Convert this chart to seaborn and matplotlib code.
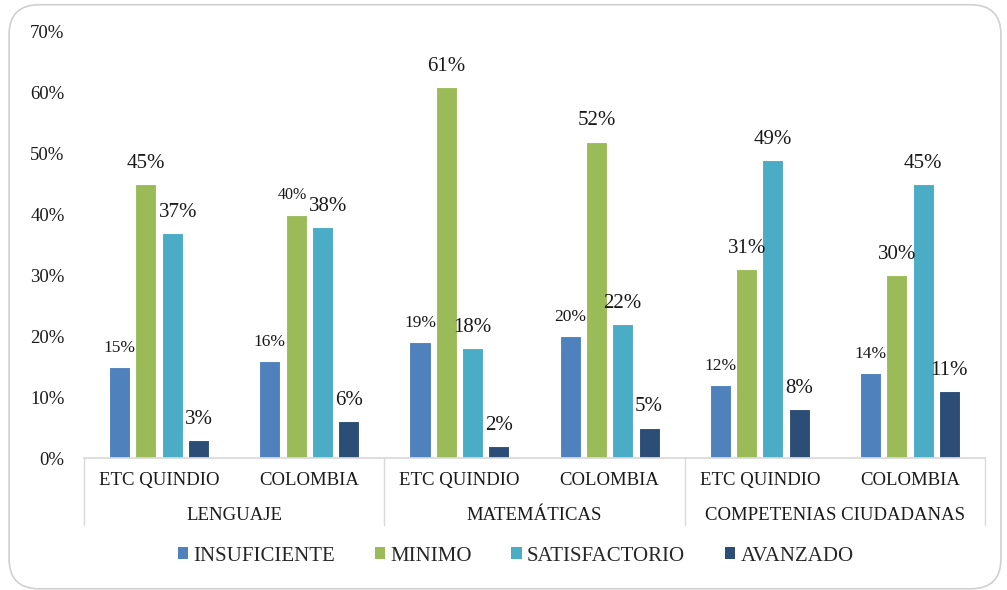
import matplotlib.pyplot as plt
import pandas as pd
import seaborn as sns
from matplotlib.patches import FancyBboxPatch, Patch
from matplotlib.transforms import blended_transform_factory

# datos
areas = ["LENGUAJE", "MATEMÁTICAS", "COMPETENIAS CIUDADANAS"]
lugares = ["ETC QUINDIO", "COLOMBIA"]
niveles = ["INSUFICIENTE", "MINIMO", "SATISFACTORIO", "AVANZADO"]
insuficiente = [15, 16, 19, 20, 12, 14]
minimo = [45, 40, 61, 52, 31, 30]
satisfactorio = [37, 38, 18, 22, 49, 45]
avanzado = [3, 6, 2, 5, 8, 11]
ticks_y = [0, 10, 20, 30, 40, 50, 60, 70]

paleta = ["#4F81BD", "#9BBB59", "#4BACC6", "#2C4D75"]

claves = [f"{a}|{l}" for a in areas for l in lugares]
filas = []
for nivel, vals in zip(niveles, [insuficiente, minimo, satisfactorio, avanzado]):
    for k, v in zip(claves, vals):
        filas.append({"grupo": k, "nivel": nivel, "valor": v})
df = pd.DataFrame(filas)

sns.set_theme(style="white")
plt.rcParams["font.family"] = ["Liberation Serif", "DejaVu Serif"]

fig = plt.figure(figsize=(10.07, 5.90), dpi=100)
ax = fig.add_axes([0.0834, 0.2237, 0.8948, 0.7221])

sns.barplot(
    data=df, x="grupo", y="valor", hue="nivel", order=claves,
    hue_order=niveles, palette=paleta, saturation=1, width=0.7, gap=0.2,
    errorbar=None, edgecolor="white", linewidth=0.8, ax=ax, legend=False,
)

# etiquetas de valores
for i, cont in enumerate(ax.containers):
    textos = ax.bar_label(cont, labels=[f"{b.get_height():.0f}%" for b in cont],
                          padding=8, fontsize=15, color="#1a1a1a")
    for j, t in enumerate(textos):
        if i == 0:
            t.set_fontsize(12.5)
        elif i == 1 and j == 1:
            t.set_fontsize(11.5)
            t.xyann = (-3, 8)
        elif i == 2 and j in (0, 1):
            t.xyann = (4, 8)

ax.set_ylim(0, 70)
ax.set_xlim(-0.5, 5.5)
ax.set_yticks(ticks_y)
ax.set_yticklabels([f"{t}%" for t in ticks_y], fontsize=13.5, color="#1a1a1a")
ax.tick_params(axis="y", length=0, pad=14)
ax.set_xticks(range(6))
ax.set_xticklabels([l for a in areas for l in lugares], fontsize=13.5, color="#1a1a1a")
ax.tick_params(axis="x", length=0, pad=10)
ax.set_xlabel("")
ax.set_ylabel("")
for s in ["top", "right", "left"]:
    ax.spines[s].set_visible(False)
ax.spines["bottom"].set_color("#d9d9d9")

# separadores y nombres de grupo
trans = blended_transform_factory(ax.transData, ax.transAxes)
for xs in [-0.5, 1.5, 3.5, 5.5]:
    ax.plot([xs, xs], [0, -0.158], color="#d9d9d9", lw=1, transform=trans, clip_on=False)
for i, a in enumerate(areas):
    ax.text(2 * i + 0.5, -0.134, a, transform=trans, ha="center", va="center",
            fontsize=13.5, color="#1a1a1a")

# leyenda
handles = [Patch(facecolor=c, edgecolor="none") for c in paleta]
fig.legend(handles, niveles, loc="center", bbox_to_anchor=(0.512, 0.0576), ncol=4,
           frameon=False, fontsize=15, handlelength=0.5, handleheight=0.5,
           handletextpad=0.25, columnspacing=1.9)

# borde redondeado
borde = FancyBboxPatch((0.009, 0.002), 0.985, 0.99, transform=fig.transFigure,
                       boxstyle="round,pad=0,rounding_size=0.03",
                       facecolor="none", edgecolor="#d0d0d0", lw=1.2, mutation_aspect=1.7)
fig.patches.append(borde)

fig.savefig("out.png", dpi=100)
